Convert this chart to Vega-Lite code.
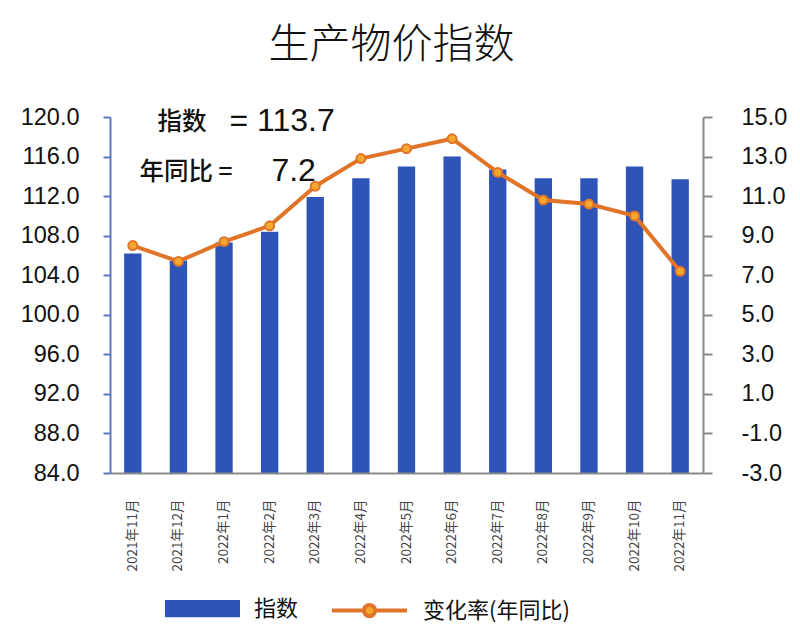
{
  "$schema": "https://vega.github.io/schema/vega-lite/v6.json",
  "width": 593,
  "height": 356,
  "autosize": "none",
  "padding": {"left": 110, "top": 117, "right": 97, "bottom": 159},
  "background": "white",
  "title": {
    "text": "生产物价指数",
    "font": "Noto Sans CJK SC",
    "fontSize": 41,
    "fontWeight": 300,
    "color": "#111111",
    "offset": 38,
    "dx": -15
  },
  "config": {
    "view": {"stroke": null},
    "axis": {"grid": false, "labelFont": "Liberation Sans", "titleFont": "Noto Sans CJK SC"},
    "legend": {"labelFont": "Noto Sans CJK SC", "labelFontSize": 22, "labelColor": "#111111", "orient": "none", "padding": 0}
  },
  "data": {
    "values": [
      {"month": "2021年11月", "index": 106.2, "yoy": 8.5},
      {"month": "2021年12月", "index": 105.5, "yoy": 7.7},
      {"month": "2022年1月", "index": 107.3, "yoy": 8.7},
      {"month": "2022年2月", "index": 108.4, "yoy": 9.5},
      {"month": "2022年3月", "index": 111.9, "yoy": 11.5},
      {"month": "2022年4月", "index": 113.8, "yoy": 12.9},
      {"month": "2022年5月", "index": 115.0, "yoy": 13.4},
      {"month": "2022年6月", "index": 116.0, "yoy": 13.9},
      {"month": "2022年7月", "index": 114.7, "yoy": 12.2},
      {"month": "2022年8月", "index": 113.8, "yoy": 10.8},
      {"month": "2022年9月", "index": 113.8, "yoy": 10.6},
      {"month": "2022年10月", "index": 115.0, "yoy": 10.0},
      {"month": "2022年11月", "index": 113.7, "yoy": 7.2}
    ]
  },
  "encoding": {
    "x": {
      "field": "month",
      "type": "nominal",
      "sort": null,
      "scale": {"paddingInner": 0.62, "paddingOuter": 0.31},
      "axis": {
        "title": null,
        "labelAngle": -90,
        "labelFont": "Noto Sans CJK SC",
        "labelFontSize": 13.5,
        "labelColor": "#444444",
        "labelPadding": 26,
        "ticks": false,
        "domainColor": "#8a8a8a",
        "domainWidth": 2,
        "zindex": 1
      }
    }
  },
  "layer": [
    {
      "layer": [
        {
          "mark": {"type": "bar"},
          "encoding": {
            "y": {
              "field": "index",
              "type": "quantitative",
              "scale": {"domain": [84, 120], "zero": false, "nice": false},
              "axis": {"title": null, "orient": "left", "values": [84, 88, 92, 96, 100, 104, 108, 112, 116, 120], "format": ".1f", "labelOverlap": false, "labelFlush": false, "labelFontSize": 23.5, "labelColor": "#111111", "labelPadding": 24, "ticks": true, "domainColor": "#5a78c0", "domainWidth": 2, "tickColor": "#5a78c0", "tickWidth": 2, "tickSize": 7, "zindex": 1}
            },
            "y2": {"datum": 84},
            "fill": {
              "datum": "指数",
              "scale": {"range": ["#2F54B8"]},
              "legend": {
                "title": null,
                "symbolType": "M-1,-0.23H1V0.23H-1Z",
                "symbolSize": 5625,
                "symbolStrokeWidth": 0,
                "labelOffset": 14,
                "legendX": 55,
                "legendY": 454
              }
            }
          }
        },
        {
          "transform": [{"filter": "datum.month == '2021年12月'"}],
          "mark": {"type": "text", "align": "left", "baseline": "middle", "font": "Noto Sans CJK SC", "fontSize": 24.5, "fontWeight": 500, "color": "#111111", "dx": -21},
          "encoding": {
            "y": {"datum": 119.4, "type": "quantitative", "axis": {"title": null, "orient": "left", "values": [84, 88, 92, 96, 100, 104, 108, 112, 116, 120], "format": ".1f", "labelOverlap": false, "labelFlush": false, "labelFontSize": 23.5, "labelColor": "#111111", "labelPadding": 24, "ticks": true, "domainColor": "#5a78c0", "domainWidth": 2, "tickColor": "#5a78c0", "tickWidth": 2, "tickSize": 7, "zindex": 1}},
            "text": {"value": "指数"}
          }
        },
        {
          "transform": [{"filter": "datum.month == '2021年12月'"}],
          "mark": {"type": "text", "align": "left", "baseline": "middle", "font": "Liberation Sans", "fontSize": 32, "color": "#111111", "dx": 51},
          "encoding": {
            "y": {"datum": 119.6, "type": "quantitative", "axis": {"title": null, "orient": "left", "values": [84, 88, 92, 96, 100, 104, 108, 112, 116, 120], "format": ".1f", "labelOverlap": false, "labelFlush": false, "labelFontSize": 23.5, "labelColor": "#111111", "labelPadding": 24, "ticks": true, "domainColor": "#5a78c0", "domainWidth": 2, "tickColor": "#5a78c0", "tickWidth": 2, "tickSize": 7, "zindex": 1}},
            "text": {"value": "= 113.7"}
          }
        },
        {
          "transform": [{"filter": "datum.month == '2021年12月'"}],
          "mark": {"type": "text", "align": "left", "baseline": "middle", "font": "Noto Sans CJK SC", "fontSize": 24.5, "fontWeight": 500, "color": "#111111", "dx": -39},
          "encoding": {
            "y": {"datum": 114.3, "type": "quantitative", "axis": {"title": null, "orient": "left", "values": [84, 88, 92, 96, 100, 104, 108, 112, 116, 120], "format": ".1f", "labelOverlap": false, "labelFlush": false, "labelFontSize": 23.5, "labelColor": "#111111", "labelPadding": 24, "ticks": true, "domainColor": "#5a78c0", "domainWidth": 2, "tickColor": "#5a78c0", "tickWidth": 2, "tickSize": 7, "zindex": 1}},
            "text": {"value": "年同比 ="}
          }
        },
        {
          "transform": [{"filter": "datum.month == '2021年12月'"}],
          "mark": {"type": "text", "align": "left", "baseline": "middle", "font": "Liberation Sans", "fontSize": 32, "color": "#111111", "dx": 93},
          "encoding": {
            "y": {"datum": 114.5, "type": "quantitative", "axis": {"title": null, "orient": "left", "values": [84, 88, 92, 96, 100, 104, 108, 112, 116, 120], "format": ".1f", "labelOverlap": false, "labelFlush": false, "labelFontSize": 23.5, "labelColor": "#111111", "labelPadding": 24, "ticks": true, "domainColor": "#5a78c0", "domainWidth": 2, "tickColor": "#5a78c0", "tickWidth": 2, "tickSize": 7, "zindex": 1}},
            "text": {"value": "7.2"}
          }
        }
      ]
    },
    {
      "encoding": {
        "y": {
          "field": "yoy",
          "type": "quantitative",
          "scale": {"domain": [-3, 15], "zero": false, "nice": false},
          "axis": {"title": null, "orient": "right", "values": [-3, -1, 1, 3, 5, 7, 9, 11, 13, 15], "format": ".1f", "labelExpr": "replace(datum.label, '\u2212', '-')", "labelOverlap": false, "labelFlush": false, "labelFontSize": 23.5, "labelColor": "#111111", "labelPadding": 29, "ticks": true, "domainColor": "#8a8a8a", "domainWidth": 2, "tickColor": "#8a8a8a", "tickWidth": 2, "tickSize": 9, "zindex": 1}
        }
      },
      "layer": [
        {
          "mark": {"type": "line", "strokeWidth": 4},
          "encoding": {
            "stroke": {
              "datum": "变化率(年同比)",
              "scale": {"range": ["#E07428"]},
              "legend": {
                "title": null,
                "symbolType": "M-1,0H-0.15M0.15,0H1M0.15,0A0.15,0.15 0 1,1 -0.15,0A0.15,0.15 0 1,1 0.15,0",
                "symbolSize": 5625,
                "symbolStrokeWidth": 4,
                "symbolFillColor": "#F4A82E",
                "labelOffset": 14,
                "legendX": 220,
                "legendY": 454
              }
            }
          }
        },
        {
          "mark": {"type": "point", "filled": true, "fill": "#F4A82E", "stroke": "#E07428", "strokeWidth": 2, "size": 80, "opacity": 1}
        }
      ]
    }
  ],
  "resolve": {"scale": {"y": "independent", "fill": "independent", "stroke": "independent"}}
}
